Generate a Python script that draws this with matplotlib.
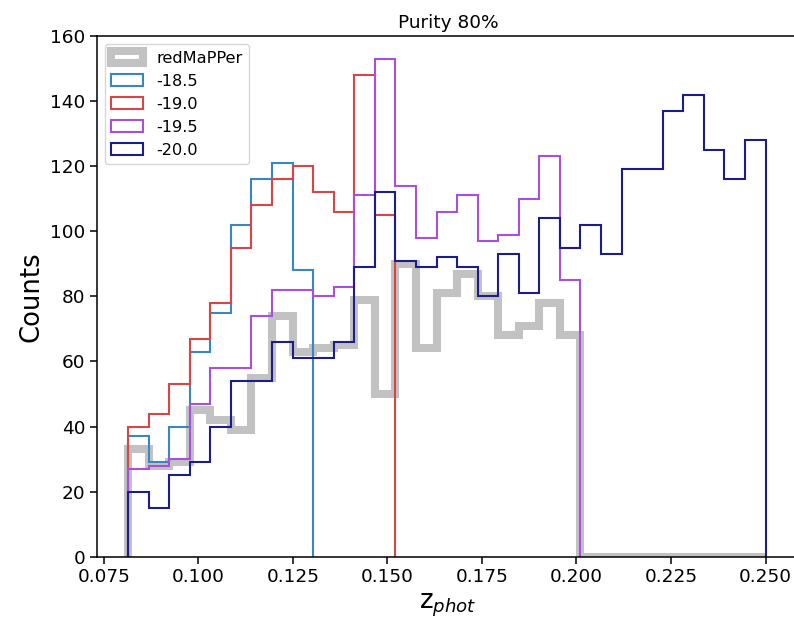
import matplotlib
matplotlib.use("Agg")
import matplotlib.pyplot as plt
import numpy as np

# shared bin edges (31 bins from z~0.0814 to 0.25)
z_min = 0.0814
z_max = 0.250
n_bins = 31

# counts per bin
redmapper = [33, 28, 29, 45, 42, 39, 55, 74, 63, 64, 65, 79, 50, 90, 64, 81,
             87, 80, 68, 71, 78, 68, 0, 0, 0, 0, 0, 0, 0, 0, 0]
m185 = [37, 29, 40, 63, 75, 102, 116, 121, 88]
m190 = [40, 44, 53, 67, 78, 95, 108, 116, 120, 112, 106, 148, 105]
m195 = [27, 28, 30, 47, 58, 58, 74, 82, 82, 80, 83, 111, 153, 114, 98, 106,
        111, 97, 99, 110, 123, 85]
m200 = [20, 15, 25, 29, 40, 54, 54, 66, 61, 61, 66, 89, 112, 91, 89, 92,
        89, 80, 93, 81, 104, 95, 102, 93, 119, 119, 137, 142, 125, 116, 128]

labels = ['redMaPPer', '-18.5', '-19.0', '-19.5', '-20.0']
colors = ['#c2c2c2', '#3a86c0', '#d84545', '#a94fe0', '#1c1c8a']

edges = np.linspace(z_min, z_max, n_bins + 1)
centers = 0.5 * (edges[:-1] + edges[1:])

fig = plt.figure(figsize=(7.94, 6.21), dpi=100)
# right spine falls just outside the picture, as in the reference
ax = fig.add_axes([0.1218, 0.1035, 0.8852, 0.8385])

series = [redmapper, m185, m190, m195, m200]
for i, (vals, lab, col) in enumerate(zip(series, labels, colors)):
    n = len(vals)
    lw = 5.8 if i == 0 else 1.5
    ax.hist(centers[:n], bins=edges[:n + 1], weights=vals, histtype='step',
            color=col, lw=lw, label=lab)

ax.set_xlim(0.0731, 0.2590)
ax.set_ylim(0, 160)
ax.set_xticks([0.075, 0.100, 0.125, 0.150, 0.175, 0.200, 0.225, 0.250])
ax.tick_params(labelsize=13.3, length=4.7, width=1.1)
for sp in ax.spines.values():
    sp.set_linewidth(1.1)

ax.set_xlabel(r'z$_{phot}$', fontsize=18.6)
ax.set_ylabel('Counts', fontsize=18.6)
ax.set_title('Purity 80%', fontsize=13.3)
ax.legend(loc='upper left', fontsize=11.6)

fig.savefig('out.png', dpi=100)
